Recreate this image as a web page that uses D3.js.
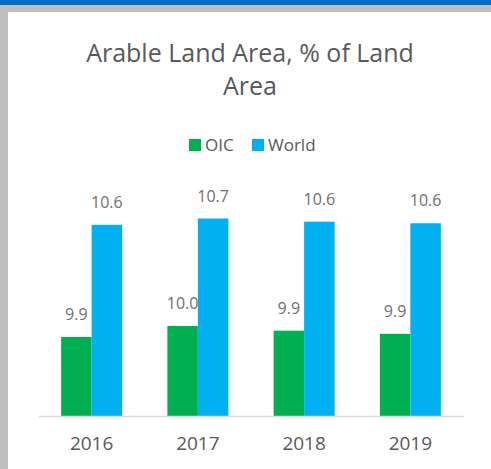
<!DOCTYPE html>
<html><head><meta charset="utf-8">
<script src="https://cdn.jsdelivr.net/npm/d3@7"></script>
<style>body{margin:0;background:#fff;}svg{display:block;}</style>
</head><body>
<script>
const years = ["2016", "2017", "2018", "2019"];
const seriesNames = ["OIC", "World"];
const oicValues = [9.90, 9.97, 9.94, 9.92];
const worldValues = [10.61, 10.65, 10.63, 10.62];
const colors = ["#00B050", "#00B0F0"];
const titleLines = ["Arable Land Area, % of Land", "Area"];

const W = 491, H = 469;
const svg = d3.select("body").append("svg").attr("width", W).attr("height", H);
svg.append("rect").attr("width", W).attr("height", H).attr("fill", "#fff");
// frame bands
svg.append("rect").attr("x", 0).attr("y", 0).attr("width", W).attr("height", 5).attr("fill", "#0070C0");
svg.append("rect").attr("x", 0).attr("y", 5).attr("width", W).attr("height", 7).attr("fill", "#BFBFBF");
svg.append("rect").attr("x", 0).attr("y", 5).attr("width", 8).attr("height", H - 5).attr("fill", "#BFBFBF");

const font = "'Open Sans', sans-serif";
const textColor = "#595959";

// title
svg.append("g").selectAll("text").data(titleLines).join("text")
  .attr("x", 250).attr("y", (d, i) => 62 + i * 33)
  .attr("text-anchor", "middle").attr("font-family", font).attr("font-size", 25)
  .attr("fill", textColor).text(d => d);

// legend
const legend = svg.append("g");
const legendX = [189, 252];
seriesNames.forEach((s, i) => {
  legend.append("rect").attr("x", legendX[i]).attr("y", 139).attr("width", 12).attr("height", 12).attr("fill", colors[i]);
  legend.append("text").attr("x", legendX[i] + 16).attr("y", 151)
    .attr("font-family", font).attr("font-size", 17).attr("fill", textColor).text(s);
});

const data = years.map((y, i) => ({year: y, vals: [oicValues[i], worldValues[i]]}));

const x0 = d3.scaleBand().domain(years).range([38.5, 463.5]).paddingInner(0.426).paddingOuter(0.213);
const x1 = d3.scaleBand().domain(seriesNames).range([0, x0.bandwidth()]).padding(0);
const y = d3.scaleLinear().domain([9.4, 11.0]).range([416, 416 - 1.6 * 158]);

const groups = svg.append("g").selectAll("g").data(data).join("g")
  .attr("transform", d => `translate(${x0(d.year)},0)`);

groups.selectAll("rect").data(d => d.vals.map((v, i) => ({name: seriesNames[i], v, i})))
  .join("rect")
  .attr("x", d => x1(d.name)).attr("width", x1.bandwidth())
  .attr("y", d => y(d.v)).attr("height", d => y(9.4) - y(d.v))
  .attr("fill", d => colors[d.i]);

groups.selectAll("text.val").data(d => d.vals.map((v, i) => ({name: seriesNames[i], v, i})))
  .join("text").attr("class", "val")
  .attr("x", d => x1(d.name) + x1.bandwidth() / 2).attr("y", d => y(d.v) - 17)
  .attr("text-anchor", "middle").attr("font-family", font).attr("font-size", 16)
  .attr("fill", "#6f6f6f").text(d => d.v.toFixed(1));

// x axis
const xAxis = svg.append("g").attr("transform", "translate(0,416)")
  .call(d3.axisBottom(x0).tickSize(0).tickPadding(21));
xAxis.select(".domain").attr("stroke", "#D9D9D9").attr("stroke-width", 1.5);
xAxis.selectAll("text").attr("font-family", font).attr("font-size", 19).attr("fill", textColor);
</script>
</body></html>
